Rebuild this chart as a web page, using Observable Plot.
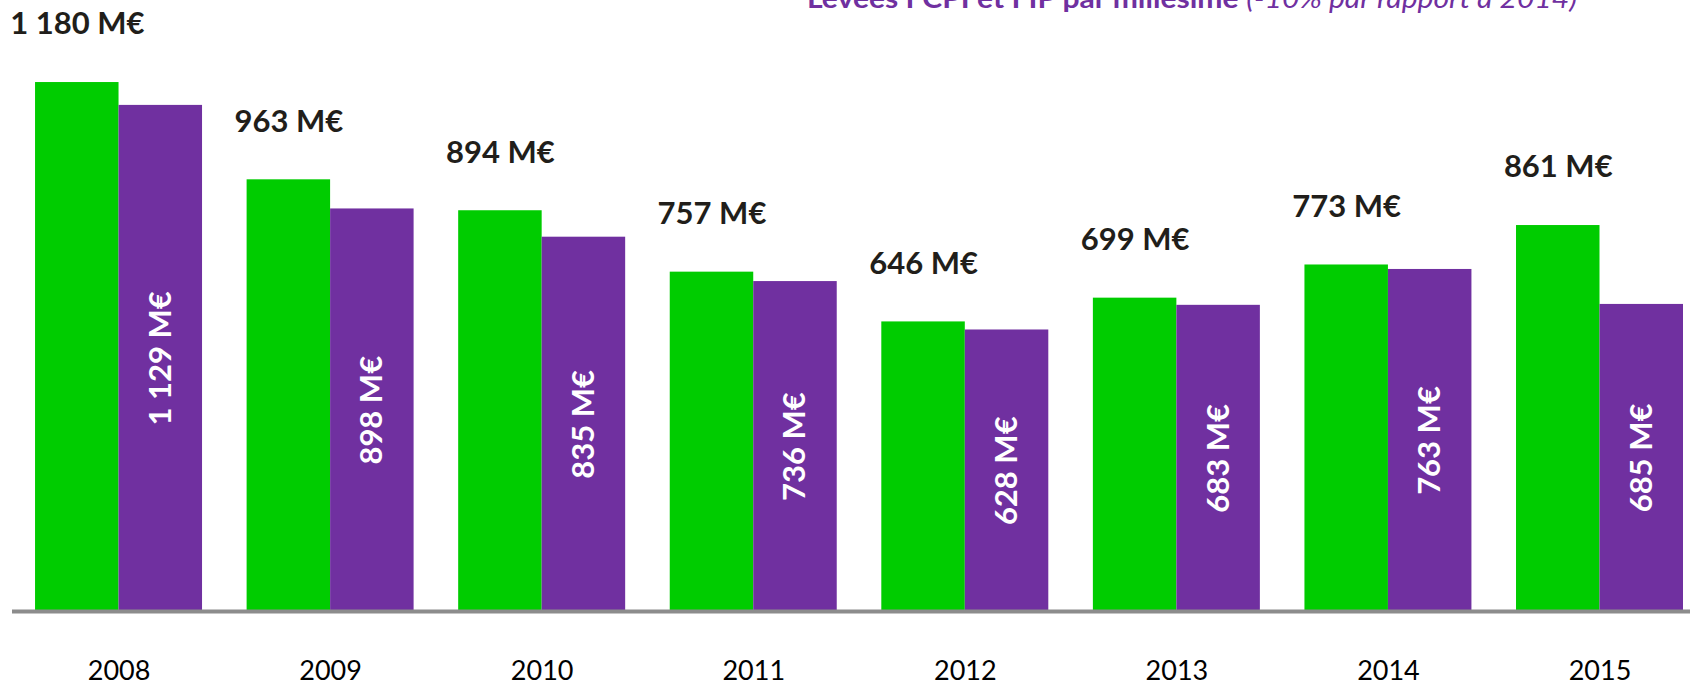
<!DOCTYPE html>
<html>
<head>
<meta charset="utf-8">
<script src="https://cdn.jsdelivr.net/npm/d3@7"></script>
<script src="https://cdn.jsdelivr.net/npm/@observablehq/plot@0.6"></script>
<style>
  html, body { margin: 0; padding: 0; background: #fff; overflow: hidden; }
  #wrap { position: relative; width: 1690px; height: 684px; }
  #title { position: absolute; left: 0; top: 0; }
</style>
</head>
<body>
<div id="wrap">
  <div id="chart"></div>
  <svg id="title" width="1690" height="30" xmlns="http://www.w3.org/2000/svg">
    <text x="807" y="8" textLength="770" lengthAdjust="spacingAndGlyphs"
          font-family="Lato, sans-serif" font-size="27" fill="#7030A0"><tspan font-weight="700">Levées FCPI et FIP par millésime</tspan> <tspan font-style="italic">(-10% par rapport à 2014)</tspan></text>
  </svg>
</div>
<script>
const years = ["2008", "2009", "2010", "2011", "2012", "2013", "2014", "2015"];
const totalLevees = [1180, 963, 894, 757, 646, 699, 773, 861];
const fcpiFipLevees = [1129, 898, 835, 736, 628, 683, 763, 685];

const data = years.map((year, i) => ({year, total: totalLevees[i], fcpiFip: fcpiFipLevees[i]}));

const fmt = v => v >= 1000
  ? `${Math.floor(v / 1000)} ${String(v % 1000).padStart(3, "0")} M€`
  : `${v} M€`;

const GREEN = "#00CC00";
const PURPLE = "#7030A0";
const INK = "#211e1a";
const half = 83.5;

const chart = Plot.plot({
  width: 1690,
  height: 684,
  marginLeft: 12,
  marginRight: 0,
  marginTop: 0,
  marginBottom: 73,
  style: {fontFamily: "Lato, sans-serif", fontSize: "27px", color: "black", background: "transparent"},
  x: {
    type: "band",
    domain: years,
    paddingInner: 0.2107,
    paddingOuter: 0.071,
    align: 0.767,
    round: false,
    tickSize: 0,
    tickPadding: 49,
    label: null
  },
  y: {domain: [0, 1363], axis: null},
  marks: [
    Plot.barY(data, {x: "year", y: "total", fill: GREEN, insetRight: half}),
    Plot.barY(data, {x: "year", y: "fcpiFip", fill: PURPLE, insetLeft: half}),
    Plot.ruleY([0], {stroke: "#8c8c8c", strokeWidth: 4}),
    Plot.text(data, {
      x: "year", y: "total", text: d => fmt(d.total),
      dx: -half / 2, dy: -58, fontSize: 31, fontWeight: "bold", fill: INK
    }),
    Plot.text(data, {
      x: "year", y: d => d.fcpiFip / 2, text: d => fmt(d.fcpiFip),
      dx: half / 2, rotate: -90, fontSize: 31, fontWeight: "bold", fill: "white"
    })
  ]
});
document.getElementById("chart").appendChild(chart);
</script>
</body>
</html>
